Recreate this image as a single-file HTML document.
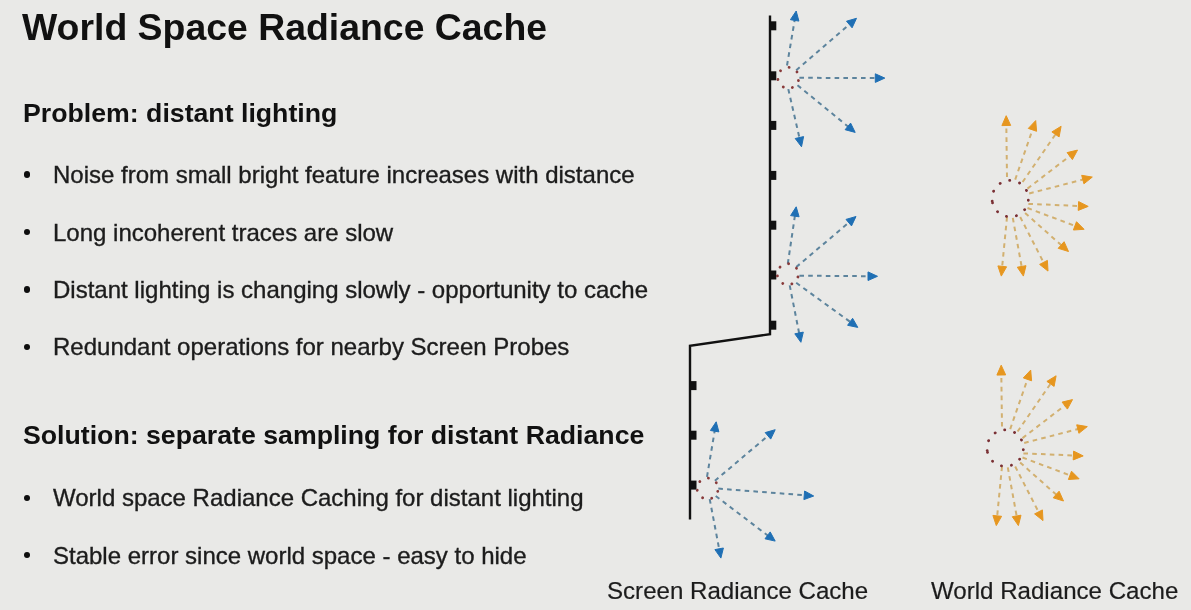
<!DOCTYPE html>
<html><head><meta charset="utf-8">
<style>
html,body{margin:0;padding:0;}
body{width:1191px;height:610px;overflow:hidden;background:#e9e9e7;position:relative;font-family:"Liberation Sans",sans-serif;color:#111;}
.t{position:absolute;white-space:nowrap;line-height:1;}
.title{left:22px;top:9.4px;font-size:37.4px;font-weight:bold;}
.h{left:23px;font-size:26.7px;font-weight:bold;}
.b{left:53px;font-size:24px;color:#1c1c1c;-webkit-text-stroke:0.35px #1c1c1c;}
.dot{position:absolute;left:23.7px;width:6.5px;height:6.5px;border-radius:50%;background:#0e0e0e;}
.cap{font-size:24.1px;color:#1c1c1c;-webkit-text-stroke:0.2px #1c1c1c;}
svg{position:absolute;left:0;top:0;}
#wrap{position:absolute;left:0;top:0;width:1191px;height:610px;filter:blur(0.45px);}
</style></head><body>
<div id="wrap">
<div class="t title">World Space Radiance Cache</div>
<div class="t h" style="top:99.7px">Problem: distant lighting</div>
<div class="dot" style="top:171.1px"></div>
<div class="t b" style="top:163.1px">Noise from small bright feature increases with distance</div>
<div class="dot" style="top:228.8px"></div>
<div class="t b" style="top:221.1px">Long incoherent traces are slow</div>
<div class="dot" style="top:286.3px"></div>
<div class="t b" style="top:278.4px">Distant lighting is changing slowly - opportunity to cache</div>
<div class="dot" style="top:343.8px"></div>
<div class="t b" style="top:335.4px">Redundant operations for nearby Screen Probes</div>
<div class="t h" style="top:422.4px">Solution: separate sampling for distant Radiance</div>
<div class="dot" style="top:494.5px"></div>
<div class="t b" style="top:486.0px">World space Radiance Caching for distant lighting</div>
<div class="dot" style="top:551.8px"></div>
<div class="t b" style="top:543.7px">Stable error since world space - easy to hide</div>
<div class="t cap" style="left:607px;top:578.8px">Screen Radiance Cache</div>
<div class="t cap" style="left:931px;top:578.8px">World Radiance Cache</div>
<svg width="1191" height="610" viewBox="0 0 1191 610">
<polyline points="770,15.5 770,334.2 690,345.8 690,519.5" fill="none" stroke="#111" stroke-width="2.4" stroke-linejoin="miter"/>
<rect x="770" y="21.3" width="6.3" height="9" fill="#111"/>
<rect x="770" y="71.3" width="6.3" height="9" fill="#111"/>
<rect x="770" y="120.9" width="6.3" height="9" fill="#111"/>
<rect x="770" y="170.9" width="6.3" height="9" fill="#111"/>
<rect x="770" y="220.7" width="6.3" height="9" fill="#111"/>
<rect x="770" y="270.5" width="6.3" height="9" fill="#111"/>
<rect x="770" y="320.7" width="6.3" height="9" fill="#111"/>
<rect x="690" y="381.1" width="6.5" height="9" fill="#111"/>
<rect x="690" y="430.7" width="6.5" height="9" fill="#111"/>
<rect x="690" y="480.6" width="6.5" height="9" fill="#111"/>
<line x1="787.0" y1="65.5" x2="794.8" y2="19.4" stroke="#5d849d" stroke-width="2" stroke-dasharray="4.6 4.2"/><polygon points="796.2,11.0 798.9,21.1 790.4,19.7" fill="#1f6fb4" stroke="#1f6fb4" stroke-width="1" stroke-linejoin="round"/>
<line x1="796.2" y1="70.2" x2="850.1" y2="23.8" stroke="#5d849d" stroke-width="2" stroke-dasharray="4.6 4.2"/><polygon points="856.5,18.3 852.1,27.8 846.5,21.2" fill="#1f6fb4" stroke="#1f6fb4" stroke-width="1" stroke-linejoin="round"/>
<line x1="799.4" y1="77.8" x2="876.3" y2="78.1" stroke="#5d849d" stroke-width="2" stroke-dasharray="4.6 4.2"/><polygon points="884.8,78.1 875.3,82.4 875.3,73.8" fill="#1f6fb4" stroke="#1f6fb4" stroke-width="1" stroke-linejoin="round"/>
<line x1="797.5" y1="85.2" x2="848.6" y2="127.0" stroke="#5d849d" stroke-width="2" stroke-dasharray="4.6 4.2"/><polygon points="855.2,132.4 845.1,129.7 850.6,123.1" fill="#1f6fb4" stroke="#1f6fb4" stroke-width="1" stroke-linejoin="round"/>
<line x1="788.3" y1="89.1" x2="799.6" y2="138.5" stroke="#5d849d" stroke-width="2" stroke-dasharray="4.6 4.2"/><polygon points="801.5,146.8 795.2,138.5 803.6,136.6" fill="#1f6fb4" stroke="#1f6fb4" stroke-width="1" stroke-linejoin="round"/>
<circle cx="788.3" cy="77.8" r="10.5" fill="none" stroke="#883a3a" stroke-width="2.8" stroke-dasharray="0.1 9.325" stroke-linecap="round" transform="rotate(15 788.3 77.8)"/>
<line x1="787.8" y1="263.7" x2="795.0" y2="215.2" stroke="#5d849d" stroke-width="2" stroke-dasharray="4.6 4.2"/><polygon points="796.2,206.8 799.1,216.8 790.6,215.6" fill="#1f6fb4" stroke="#1f6fb4" stroke-width="1" stroke-linejoin="round"/>
<line x1="796.2" y1="267.1" x2="849.5" y2="222.0" stroke="#5d849d" stroke-width="2" stroke-dasharray="4.6 4.2"/><polygon points="856.0,216.5 851.5,225.9 846.0,219.4" fill="#1f6fb4" stroke="#1f6fb4" stroke-width="1" stroke-linejoin="round"/>
<line x1="799.4" y1="275.7" x2="869.0" y2="276.2" stroke="#5d849d" stroke-width="2" stroke-dasharray="4.6 4.2"/><polygon points="877.5,276.3 868.0,280.5 868.0,271.9" fill="#1f6fb4" stroke="#1f6fb4" stroke-width="1" stroke-linejoin="round"/>
<line x1="796.2" y1="282.8" x2="850.9" y2="322.4" stroke="#5d849d" stroke-width="2" stroke-dasharray="4.6 4.2"/><polygon points="857.8,327.4 847.6,325.3 852.6,318.3" fill="#1f6fb4" stroke="#1f6fb4" stroke-width="1" stroke-linejoin="round"/>
<line x1="789.7" y1="285.4" x2="799.3" y2="334.0" stroke="#5d849d" stroke-width="2" stroke-dasharray="4.6 4.2"/><polygon points="800.9,342.3 794.8,333.8 803.3,332.1" fill="#1f6fb4" stroke="#1f6fb4" stroke-width="1" stroke-linejoin="round"/>
<circle cx="787.8" cy="274.2" r="10.5" fill="none" stroke="#883a3a" stroke-width="2.8" stroke-dasharray="0.1 9.325" stroke-linecap="round" transform="rotate(15 787.8 274.2)"/>
<line x1="707.0" y1="476.8" x2="714.8" y2="430.2" stroke="#5d849d" stroke-width="2" stroke-dasharray="4.6 4.2"/><polygon points="716.2,421.8 718.9,431.9 710.4,430.5" fill="#1f6fb4" stroke="#1f6fb4" stroke-width="1" stroke-linejoin="round"/>
<line x1="714.9" y1="480.8" x2="768.7" y2="435.2" stroke="#5d849d" stroke-width="2" stroke-dasharray="4.6 4.2"/><polygon points="775.2,429.7 770.7,439.1 765.2,432.6" fill="#1f6fb4" stroke="#1f6fb4" stroke-width="1" stroke-linejoin="round"/>
<line x1="718.3" y1="488.6" x2="805.2" y2="495.3" stroke="#5d849d" stroke-width="2" stroke-dasharray="4.6 4.2"/><polygon points="813.7,496.0 803.9,499.6 804.6,491.0" fill="#1f6fb4" stroke="#1f6fb4" stroke-width="1" stroke-linejoin="round"/>
<line x1="715.7" y1="496.0" x2="768.4" y2="536.0" stroke="#5d849d" stroke-width="2" stroke-dasharray="4.6 4.2"/><polygon points="775.2,541.1 765.0,538.8 770.2,531.9" fill="#1f6fb4" stroke="#1f6fb4" stroke-width="1" stroke-linejoin="round"/>
<line x1="709.7" y1="499.1" x2="719.3" y2="549.7" stroke="#5d849d" stroke-width="2" stroke-dasharray="4.6 4.2"/><polygon points="720.9,558.1 714.9,549.6 723.4,548.0" fill="#1f6fb4" stroke="#1f6fb4" stroke-width="1" stroke-linejoin="round"/>
<circle cx="707.6" cy="488.6" r="10.5" fill="none" stroke="#883a3a" stroke-width="2.8" stroke-dasharray="0.1 9.325" stroke-linecap="round" transform="rotate(15 707.6 488.6)"/>
<g transform="translate(0,0)"><line x1="1007.0" y1="177.1" x2="1006.3" y2="124.5" stroke="#d2b070" stroke-width="2" stroke-dasharray="4.6 4.2"/><polygon points="1006.2,115.7 1010.7,125.4 1001.9,125.6" fill="#e6961f" stroke="#e6961f" stroke-width="1" stroke-linejoin="round"/><line x1="1015.2" y1="179.6" x2="1032.8" y2="128.9" stroke="#d2b070" stroke-width="2" stroke-dasharray="4.6 4.2"/><polygon points="1035.7,120.6 1036.6,131.3 1028.3,128.4" fill="#e6961f" stroke="#e6961f" stroke-width="1" stroke-linejoin="round"/><line x1="1022.6" y1="182.0" x2="1056.1" y2="133.5" stroke="#d2b070" stroke-width="2" stroke-dasharray="4.6 4.2"/><polygon points="1061.1,126.3 1059.1,136.9 1051.9,131.9" fill="#e6961f" stroke="#e6961f" stroke-width="1" stroke-linejoin="round"/><line x1="1027.5" y1="188.6" x2="1070.5" y2="155.5" stroke="#d2b070" stroke-width="2" stroke-dasharray="4.6 4.2"/><polygon points="1077.5,150.1 1072.4,159.6 1067.1,152.6" fill="#e6961f" stroke="#e6961f" stroke-width="1" stroke-linejoin="round"/><line x1="1029.2" y1="193.5" x2="1083.8" y2="179.3" stroke="#d2b070" stroke-width="2" stroke-dasharray="4.6 4.2"/><polygon points="1092.3,177.1 1083.9,183.8 1081.7,175.3" fill="#e6961f" stroke="#e6961f" stroke-width="1" stroke-linejoin="round"/><line x1="1028.4" y1="203.9" x2="1079.4" y2="206.0" stroke="#d2b070" stroke-width="2" stroke-dasharray="4.6 4.2"/><polygon points="1088.2,206.4 1078.2,210.4 1078.6,201.6" fill="#e6961f" stroke="#e6961f" stroke-width="1" stroke-linejoin="round"/><line x1="1027.5" y1="208.0" x2="1075.9" y2="226.2" stroke="#d2b070" stroke-width="2" stroke-dasharray="4.6 4.2"/><polygon points="1084.1,229.3 1073.4,230.0 1076.5,221.7" fill="#e6961f" stroke="#e6961f" stroke-width="1" stroke-linejoin="round"/><line x1="1025.1" y1="213.0" x2="1061.9" y2="245.7" stroke="#d2b070" stroke-width="2" stroke-dasharray="4.6 4.2"/><polygon points="1068.5,251.5 1058.2,248.3 1064.1,241.7" fill="#e6961f" stroke="#e6961f" stroke-width="1" stroke-linejoin="round"/><line x1="1020.2" y1="217.0" x2="1044.0" y2="263.3" stroke="#d2b070" stroke-width="2" stroke-dasharray="4.6 4.2"/><polygon points="1048.0,271.1 1039.6,264.4 1047.4,260.4" fill="#e6961f" stroke="#e6961f" stroke-width="1" stroke-linejoin="round"/><line x1="1012.8" y1="217.9" x2="1021.8" y2="267.4" stroke="#d2b070" stroke-width="2" stroke-dasharray="4.6 4.2"/><polygon points="1023.4,276.1 1017.3,267.2 1026.0,265.7" fill="#e6961f" stroke="#e6961f" stroke-width="1" stroke-linejoin="round"/><line x1="1007.0" y1="217.0" x2="1002.1" y2="267.3" stroke="#d2b070" stroke-width="2" stroke-dasharray="4.6 4.2"/><polygon points="1001.3,276.1 997.9,265.9 1006.6,266.8" fill="#e6961f" stroke="#e6961f" stroke-width="1" stroke-linejoin="round"/><circle cx="1010.2" cy="198.6" r="18.2" fill="none" stroke="#7a3034" stroke-width="2.8" stroke-dasharray="0.1 10.06" stroke-linecap="round" transform="rotate(172 1010.2 198.6)"/></g>
<g transform="translate(-5,249.5)"><line x1="1007.0" y1="177.1" x2="1006.3" y2="124.5" stroke="#d2b070" stroke-width="2" stroke-dasharray="4.6 4.2"/><polygon points="1006.2,115.7 1010.7,125.4 1001.9,125.6" fill="#e6961f" stroke="#e6961f" stroke-width="1" stroke-linejoin="round"/><line x1="1015.2" y1="179.6" x2="1032.8" y2="128.9" stroke="#d2b070" stroke-width="2" stroke-dasharray="4.6 4.2"/><polygon points="1035.7,120.6 1036.6,131.3 1028.3,128.4" fill="#e6961f" stroke="#e6961f" stroke-width="1" stroke-linejoin="round"/><line x1="1022.6" y1="182.0" x2="1056.1" y2="133.5" stroke="#d2b070" stroke-width="2" stroke-dasharray="4.6 4.2"/><polygon points="1061.1,126.3 1059.1,136.9 1051.9,131.9" fill="#e6961f" stroke="#e6961f" stroke-width="1" stroke-linejoin="round"/><line x1="1027.5" y1="188.6" x2="1070.5" y2="155.5" stroke="#d2b070" stroke-width="2" stroke-dasharray="4.6 4.2"/><polygon points="1077.5,150.1 1072.4,159.6 1067.1,152.6" fill="#e6961f" stroke="#e6961f" stroke-width="1" stroke-linejoin="round"/><line x1="1029.2" y1="193.5" x2="1083.8" y2="179.3" stroke="#d2b070" stroke-width="2" stroke-dasharray="4.6 4.2"/><polygon points="1092.3,177.1 1083.9,183.8 1081.7,175.3" fill="#e6961f" stroke="#e6961f" stroke-width="1" stroke-linejoin="round"/><line x1="1028.4" y1="203.9" x2="1079.4" y2="206.0" stroke="#d2b070" stroke-width="2" stroke-dasharray="4.6 4.2"/><polygon points="1088.2,206.4 1078.2,210.4 1078.6,201.6" fill="#e6961f" stroke="#e6961f" stroke-width="1" stroke-linejoin="round"/><line x1="1027.5" y1="208.0" x2="1075.9" y2="226.2" stroke="#d2b070" stroke-width="2" stroke-dasharray="4.6 4.2"/><polygon points="1084.1,229.3 1073.4,230.0 1076.5,221.7" fill="#e6961f" stroke="#e6961f" stroke-width="1" stroke-linejoin="round"/><line x1="1025.1" y1="213.0" x2="1061.9" y2="245.7" stroke="#d2b070" stroke-width="2" stroke-dasharray="4.6 4.2"/><polygon points="1068.5,251.5 1058.2,248.3 1064.1,241.7" fill="#e6961f" stroke="#e6961f" stroke-width="1" stroke-linejoin="round"/><line x1="1020.2" y1="217.0" x2="1044.0" y2="263.3" stroke="#d2b070" stroke-width="2" stroke-dasharray="4.6 4.2"/><polygon points="1048.0,271.1 1039.6,264.4 1047.4,260.4" fill="#e6961f" stroke="#e6961f" stroke-width="1" stroke-linejoin="round"/><line x1="1012.8" y1="217.9" x2="1021.8" y2="267.4" stroke="#d2b070" stroke-width="2" stroke-dasharray="4.6 4.2"/><polygon points="1023.4,276.1 1017.3,267.2 1026.0,265.7" fill="#e6961f" stroke="#e6961f" stroke-width="1" stroke-linejoin="round"/><line x1="1007.0" y1="217.0" x2="1002.1" y2="267.3" stroke="#d2b070" stroke-width="2" stroke-dasharray="4.6 4.2"/><polygon points="1001.3,276.1 997.9,265.9 1006.6,266.8" fill="#e6961f" stroke="#e6961f" stroke-width="1" stroke-linejoin="round"/><circle cx="1010.2" cy="198.6" r="18.2" fill="none" stroke="#7a3034" stroke-width="2.8" stroke-dasharray="0.1 10.06" stroke-linecap="round" transform="rotate(172 1010.2 198.6)"/></g>
</svg>
</div>
</body></html>
